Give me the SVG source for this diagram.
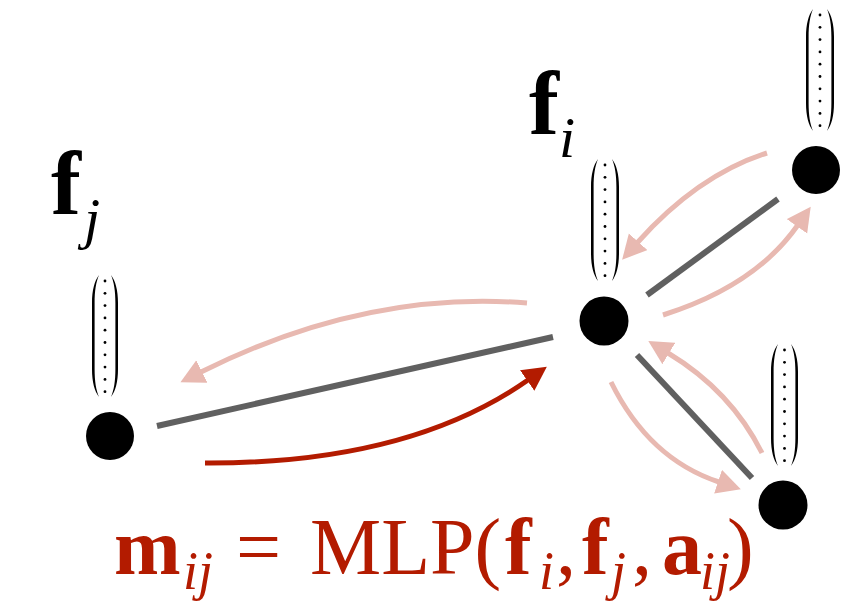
<svg xmlns="http://www.w3.org/2000/svg" width="861" height="606" viewBox="0 0 861 606">
<style>
.node{fill:#000}
.dot{fill:#000}
.paren{fill:#000}
.edge{stroke:#606060;stroke-width:6;fill:none}
.msg{stroke:#E8B9B1;stroke-width:5;fill:none}
.msgact{stroke:#B31B00;stroke-width:5;fill:none}
.lbl{font-family:"Liberation Serif","Times New Roman",serif;fill:#000}
.eq{font-family:"Liberation Serif","Times New Roman",serif;fill:#B31B00}
.b{font-weight:bold}
.it{font-style:italic}
</style>
<defs>
<marker id="ahPink" markerUnits="userSpaceOnUse" markerWidth="26" markerHeight="26" refX="1" refY="12.5" orient="auto">
<path d="M0,0 L24,12.5 L0,25 Z" fill="#E8B9B1"/>
</marker>
<marker id="ahRed" markerUnits="userSpaceOnUse" markerWidth="26" markerHeight="26" refX="1" refY="12.5" orient="auto">
<path d="M0,0 L24,12.5 L0,25 Z" fill="#B31B00"/>
</marker>
<path id="lp" class="paren" d="M7,0 C2.5,6 0,15 0,28 L0,94 C0,107 2.5,116 7,122 C4,115 2.6,106 2.6,94 L2.6,28 C2.6,16 4,7 7,0 Z"/>
<g id="dots">
<circle class="dot" cx="0" cy="6" r="1.4"/>
<circle class="dot" cx="0" cy="18.3" r="1.4"/>
<circle class="dot" cx="0" cy="30.6" r="1.4"/>
<circle class="dot" cx="0" cy="42.9" r="1.4"/>
<circle class="dot" cx="0" cy="55.2" r="1.4"/>
<circle class="dot" cx="0" cy="67.5" r="1.4"/>
<circle class="dot" cx="0" cy="79.8" r="1.4"/>
<circle class="dot" cx="0" cy="92.1" r="1.4"/>
<circle class="dot" cx="0" cy="104.4" r="1.4"/>
<circle class="dot" cx="0" cy="116.7" r="1.4"/>
</g>
</defs>

<g id="connectors">
<line class="edge" x1="157" y1="426" x2="553" y2="337"/>
<line class="edge" x1="647" y1="295" x2="778" y2="199"/>
<line class="edge" x1="637" y1="355" x2="752" y2="478"/>
<path class="msg" d="M527,303 Q365,290 201,372" marker-end="url(#ahPink)"/>
<path class="msgact" d="M205,463 Q408,464 528,380" marker-end="url(#ahRed)"/>
<path class="msg" d="M767,153 Q698,175 637.5,242.5" marker-end="url(#ahPink)"/>
<path class="msg" d="M663,315 Q755,286 797.5,225.5" marker-end="url(#ahPink)"/>
<path class="msg" d="M762,453 Q731,391 668,353" marker-end="url(#ahPink)"/>
<path class="msg" d="M611,382 Q649,459 719,482" marker-end="url(#ahPink)"/>
</g>

<g id="node-j">
<circle class="node" cx="110" cy="436" r="24"/>
<use href="#lp" transform="translate(92,275)"/>
<use href="#lp" transform="translate(118,275) scale(-1,1)"/>
<use href="#dots" transform="translate(105,275)"/>
<text class="lbl b" x="51" y="214" font-size="90">f</text>
<text class="lbl it" x="84" y="238" font-size="58">j</text>
</g>

<g id="node-i">
<circle class="node" cx="604" cy="321" r="24.5"/>
<use href="#lp" transform="translate(591,159)"/>
<use href="#lp" transform="translate(619,159) scale(-1,1)"/>
<use href="#dots" transform="translate(605,159)"/>
<text class="lbl b" x="529" y="134" font-size="90">f</text>
<text class="lbl it" x="559" y="157" font-size="58">i</text>
</g>

<g id="node-k">
<circle class="node" cx="816" cy="170" r="24"/>
<use href="#lp" transform="translate(806,9)"/>
<use href="#lp" transform="translate(834,9) scale(-1,1)"/>
<use href="#dots" transform="translate(820,9)"/>
</g>

<g id="node-l">
<circle class="node" cx="783" cy="505" r="24.5"/>
<use href="#lp" transform="translate(771,344)"/>
<use href="#lp" transform="translate(798,344) scale(-1,1)"/>
<use href="#dots" transform="translate(784.5,344)"/>
</g>

<g id="equation">
<text class="eq b" x="114" y="574" font-size="80">m</text>
<text class="eq it" x="183" y="589" font-size="54">ij</text>
<text class="eq" x="236" y="574" font-size="80">=</text>
<text class="eq" x="310" y="574" font-size="80">MLP(</text>
<text class="eq b" x="505" y="574" font-size="80">f</text>
<text class="eq it" x="539" y="589" font-size="54">i</text>
<text class="eq" x="556" y="574" font-size="80">,</text>
<text class="eq b" x="582" y="574" font-size="80">f</text>
<text class="eq it" x="611" y="589" font-size="54">j</text>
<text class="eq" x="632" y="574" font-size="80">,</text>
<text class="eq b" x="662" y="574" font-size="80">a</text>
<text class="eq it" x="700" y="589" font-size="54">ij</text>
<text class="eq" x="727" y="574" font-size="80">)</text>
</g>
</svg>
